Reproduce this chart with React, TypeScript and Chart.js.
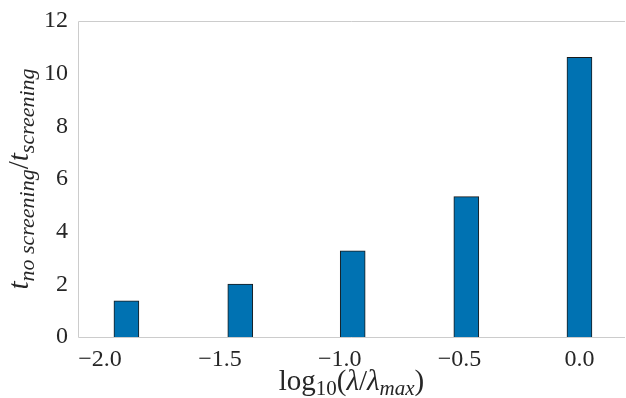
import React, { useEffect, useRef } from "react";
import { Chart, registerables } from "chart.js";

Chart.register(...registerables);

// log10(lambda / lambda_max) positions of the bars
const logLambda = [-1.89, -1.415, -0.946, -0.472, 0.0];
// t_no_screening / t_screening
const speedup = [1.37, 2.01, 3.27, 5.33, 10.62];
const xTickValues = [-2.0, -1.5, -1.0, -0.5, 0.0];
const yTickValues = [0, 2, 4, 6, 8, 10, 12];

const SERIF = "'Liberation Serif', 'DejaVu Serif', serif";
const TEXT = "#262626";

type Seg = { t: string; sub?: boolean; it?: boolean };

const xTitle: Seg[] = [
  { t: "log" },
  { t: "10", sub: true },
  { t: "(" },
  { t: "λ", it: true },
  { t: "/" },
  { t: "λ", it: true },
  { t: "max", sub: true, it: true },
  { t: ")" },
];
const yTitle: Seg[] = [
  { t: "t", it: true },
  { t: "no screening", sub: true, it: true },
  { t: "/" },
  { t: "t", it: true },
  { t: "screening", sub: true, it: true },
];

function fontFor(s: Seg, main: number, sub: number) {
  return `${s.it ? "italic " : ""}${s.sub ? sub : main}px ${SERIF}`;
}

function drawRich(
  ctx: CanvasRenderingContext2D,
  segs: Seg[],
  cx: number,
  cy: number,
  rot: number,
  main: number,
  sub: number,
  subShift: number
) {
  ctx.save();
  ctx.translate(cx, cy);
  ctx.rotate(rot);
  ctx.fillStyle = TEXT;
  ctx.textBaseline = "alphabetic";
  ctx.textAlign = "left";
  let total = 0;
  const widths = segs.map((s) => {
    ctx.font = fontFor(s, main, sub);
    const w = ctx.measureText(s.t).width;
    total += w;
    return w;
  });
  let x = -total / 2;
  segs.forEach((s, i) => {
    ctx.font = fontFor(s, main, sub);
    ctx.fillText(s.t, x, s.sub ? subShift : 0);
    x += widths[i];
  });
  ctx.restore();
}

const framePlugin = {
  id: "frameAndTitles",
  afterDatasetsDraw(chart: any) {
    const { ctx, chartArea } = chart;
    const { left, right, top, bottom } = chartArea;
    ctx.save();
    ctx.strokeStyle = "#cccccc";
    ctx.lineWidth = 1;
    ctx.beginPath();
    ctx.moveTo(Math.round(left) + 0.5, Math.round(bottom) + 0.5);
    ctx.lineTo(Math.round(left) + 0.5, Math.round(top) + 0.5);
    ctx.lineTo(Math.round(right), Math.round(top) + 0.5);
    ctx.moveTo(Math.round(left) + 0.5, Math.round(bottom) + 0.5);
    ctx.lineTo(Math.round(right), Math.round(bottom) + 0.5);
    ctx.stroke();
    ctx.restore();
  },
  afterDraw(chart: any) {
    const { ctx, chartArea } = chart;
    const cx = (chartArea.left + chartArea.right) / 2;
    const cy = (chartArea.top + chartArea.bottom) / 2;
    drawRich(ctx, xTitle, cx, 390, 0, 29, 21, 5);
    drawRich(ctx, yTitle, 28, cy, -Math.PI / 2, 29, 22, 6);
  },
};

export default function App() {
  const ref = useRef<HTMLCanvasElement | null>(null);
  useEffect(() => {
    if (!ref.current) return;
    const chart = new Chart(ref.current, {
      type: "bar",
      data: {
        datasets: [
          {
            data: logLambda.map((x, i) => ({ x, y: speedup[i] })),
            backgroundColor: "#0072B2",
            borderColor: "#1a1a1a",
            borderWidth: 1,
            barThickness: 25,
          },
        ],
      },
      options: {
        animation: false,
        responsive: false,
        devicePixelRatio: 1,
        layout: { padding: { left: 0, top: 21, right: 1, bottom: 0 } },
        plugins: {
          legend: { display: false },
          tooltip: { enabled: false },
        },
        scales: {
          x: {
            type: "linear",
            offset: false,
            min: -2.092,
            max: 0.19,
            grid: { display: false, drawTicks: false, offset: false },
            border: { display: false },
            afterBuildTicks: (s: any) => {
              s.ticks = xTickValues.map((v) => ({ value: v }));
            },
            afterFit: (s: any) => {
              s.height = 61;
              s.paddingLeft = 0;
              s.paddingRight = 0;
            },
            ticks: {
              padding: 8,
              color: TEXT,
              font: { family: SERIF, size: 24, lineHeight: 1.2 },
              callback: (v: any) => {
                const n = Number(v);
                const s = Math.abs(n).toFixed(1);
                return n < 0 ? "\u2212" + s : s;
              },
            },
          },
          y: {
            min: 0,
            max: 12,
            grid: { display: false, drawTicks: false },
            border: { display: false },
            afterBuildTicks: (s: any) => {
              s.ticks = yTickValues.map((v) => ({ value: v }));
            },
            afterFit: (s: any) => {
              s.width = 78;
              s.paddingTop = 0;
              s.paddingBottom = 0;
            },
            ticks: {
              padding: 10,
              color: TEXT,
              font: { family: SERIF, size: 24, lineHeight: 1.2 },
              callback: (v: any) => String(v),
            },
          },
        },
      },
      plugins: [framePlugin],
    });
    return () => chart.destroy();
  }, []);
  return (
    <div style={{ position: "absolute", left: 0, top: 0, width: 626, height: 398 }}>
      <canvas ref={ref} width={626} height={398} />
    </div>
  );
}
